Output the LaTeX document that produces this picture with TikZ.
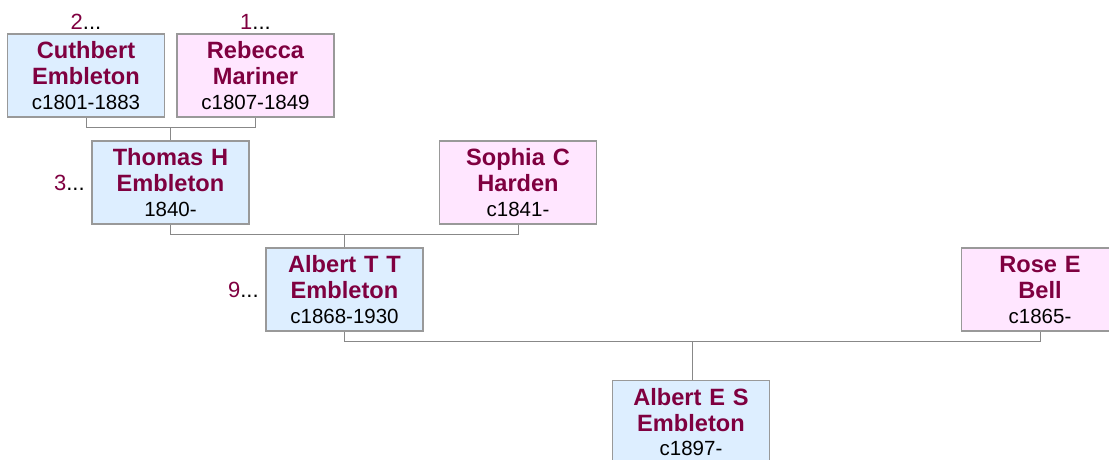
\documentclass[tikz,border=0pt]{standalone}
\usepackage{fontspec}
\setmainfont{Liberation Sans}
\usetikzlibrary{positioning,calc}

\definecolor{namered}{HTML}{7F0040}
\definecolor{maleblue}{HTML}{DDEEFF}
\definecolor{femalepink}{HTML}{FFE6FF}
\definecolor{boxgray}{HTML}{999999}
\definecolor{linegray}{HTML}{888888}

\newcommand\dtfont{\color{black}\mdseries\fontsize{20.5}{26}\selectfont}
\newcommand\gen[1]{\textcolor{namered}{#1}...}

\tikzset{
  person/.style={rectangle, draw=boxgray, line width=1.2pt, text=namered,
    font=\bfseries\fontsize{23.6}{26}\selectfont, align=center, text width=157pt,
    inner sep=0pt, text height=24.7pt, text depth=58.3pt},
  male/.style={person, fill=maleblue},
  female/.style={person, fill=femalepink},
  gennum/.style={inner sep=0pt, font=\fontsize{22}{24}\selectfont},
  link/.style={draw=linegray, line width=1pt}
}

\begin{document}
\begin{tikzpicture}[x=1pt,y=-1pt]
\useasboundingbox (0,0) rectangle (1109,459);
\clip (0,0) rectangle (1109,459);

% Grandparents
\node[male] (cuthbert) at (86,75.5) {Cuthbert\\Embleton\\[-1.5pt]{\dtfont c1801-1883}};
\node[female] (rebecca) at (255.5,75.5) {Rebecca\\Mariner\\[-1.5pt]{\dtfont c1807-1849}};

% Parents
\node[male] (thomas) at (170.5,182.5) {Thomas H\\Embleton\\[-1.5pt]{\dtfont 1840-}};
\node[female] (sophia) at (518,182.5) {Sophia C\\Harden\\[-1.5pt]{\dtfont c1841-}};

% Couple
\node[male] (albertT) at (344.5,289.5) {Albert T T\\Embleton\\[-1.5pt]{\dtfont c1868-1930}};
\node[female] (rose) at (1040,289.5) {Rose E\\Bell\\[-1.5pt]{\dtfont c1865-}};

% Child
\node[male] (albertE) at (691,422) {Albert E S\\Embleton\\[-1.5pt]{\dtfont c1897-}};

% Generation numbers
\foreach \who/\num in {cuthbert/2, rebecca/1}
    \node[gennum, above=4pt of \who] (num\who) {\gen{\num}};
\foreach \who/\num in {thomas/3, albertT/9}
    \node[gennum, left=6.5pt of \who] (num\who) {\gen{\num}};

% Marriage lines
\coordinate (m1) at ($(cuthbert.south)!0.5!(rebecca.south)+(0,10)$);
\coordinate (m2) at ($(thomas.south)!0.5!(sophia.south)+(0,10)$);
\coordinate (m3) at ($(albertT.south)!0.5!(rose.south)+(0,10)$);
\draw[link] (cuthbert.south) |- (m1) -| (rebecca.south);
\draw[link] (thomas.south) |- (m2) -| (sophia.south);
\draw[link] (albertT.south) |- (m3) -| (rose.south);

% Children lines
\draw[link] (m1) -- (m1 |- thomas.north);   % -> Thomas
\draw[link] (m2) -- (m2 |- albertT.north);  % -> Albert T T
\draw[link] (m3) -- (m3 |- albertE.north);  % -> Albert E S
\end{tikzpicture}
\end{document}
